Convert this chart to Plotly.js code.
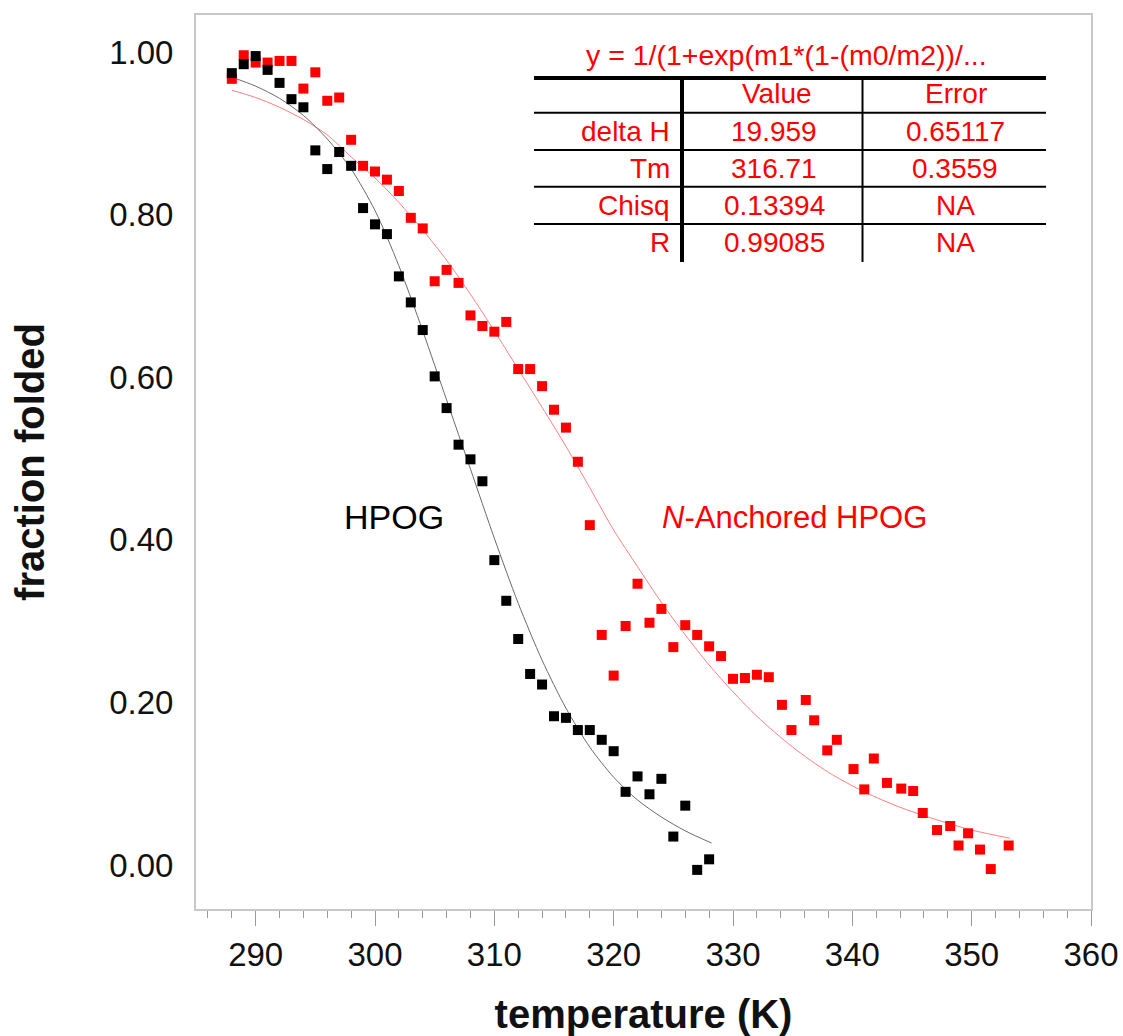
<!DOCTYPE html>
<html>
<head>
<meta charset="utf-8">
<script src="https://cdn.plot.ly/plotly-3.0.1.min.js"></script>
<style>html,body{margin:0;padding:0;background:#fff;}#chart{width:1123px;height:1036px;}</style>
</head>
<body>
<div id="chart"></div>
<script>
// ---- data ----
const blackT = [288,289,290,291,292,293,294,295,296,297,298,299,300,301,302,303,304,305,306,307,308,309,310,311,312,313,314,315,316,317,318,319,320,321,322,323,324,325,326,327,328];
const blackY = [0.974,0.985,0.995,0.978,0.962,0.942,0.932,0.879,0.856,0.877,0.860,0.808,0.788,0.776,0.724,0.692,0.658,0.601,0.562,0.517,0.499,0.472,0.375,0.325,0.278,0.235,0.222,0.183,0.181,0.166,0.166,0.154,0.140,0.090,0.109,0.087,0.106,0.035,0.073,-0.006,0.007];

const redT = [288,289,290,291,292,293,294,295,296,297,298,299,300,301,302,303,304,305,306,307,308,309,310,311,312,313,314,315,316,317,318,319,320,321,322,323,324,325,326,327,328,329,330,331,332,333,334.1,334.9,336.1,336.8,337.9,338.7,340.1,341.0,341.8,342.9,344.1,345.1,345.9,347.1,348.2,348.9,349.7,350.7,351.6,353.1];
const redY = [0.967,0.996,0.987,0.987,0.989,0.989,0.955,0.975,0.940,0.944,0.892,0.860,0.853,0.843,0.829,0.796,0.783,0.718,0.732,0.716,0.676,0.663,0.656,0.668,0.610,0.610,0.589,0.560,0.538,0.496,0.418,0.283,0.233,0.294,0.346,0.298,0.315,0.268,0.295,0.283,0.269,0.257,0.229,0.230,0.234,0.231,0.197,0.166,0.203,0.178,0.141,0.154,0.118,0.093,0.131,0.101,0.094,0.091,0.064,0.043,0.048,0.024,0.039,0.019,-0.005,0.024];

const blackFitT = [288,290,292,294,296,298,300,302,304,306,308,310,312,314,316,318,320,322,324,326,328.2];
const blackFitY = [0.969,0.958,0.943,0.922,0.893,0.856,0.805,0.737,0.657,0.572,0.487,0.402,0.322,0.252,0.193,0.145,0.108,0.080,0.059,0.042,0.027];

const redFitT = [288,290,292,294,296,298,300,302,304,306,308,310,312,314,316,318,320,322,324,326,328,330,332,335,338,341,344,347,350,353.2];
const redFitY = [0.953,0.944,0.932,0.917,0.898,0.871,0.845,0.815,0.781,0.744,0.702,0.657,0.610,0.563,0.515,0.464,0.412,0.367,0.323,0.283,0.246,0.213,0.183,0.145,0.114,0.090,0.071,0.056,0.043,0.033];

const yTicks = [0,0.2,0.4,0.6,0.8,1.0];
const xTicks = [290,300,310,320,330,340,350,360];

const fitFormula = 'y = 1/(1+exp(m1*(1-(m0/m2))/...';
const tableHeader = ['Value','Error'];
const tableRows = ['delta H','Tm','Chisq','R'];
const tableValues = ['19.959','316.71','0.13394','0.99085'];
const tableErrors = ['0.65117','0.3559','NA','NA'];

const labelBlack = 'HPOG';
const labelRed = '<i>N</i>-Anchored HPOG';

// ---- layout helpers (pixel -> paper) ----
const W = 1123, H = 1036;
const L = 196, R = 1091, T = 15, B = 909;
const px = v => (v - L) / (R - L);
const py = v => (B - v) / (B - T);
const FONT = 'Liberation Sans, Arial, Helvetica, sans-serif';
const RED = '#ff0000';

const traces = [
  {x: redFitT, y: redFitY, mode: 'lines', line: {color: '#ff8080', width: 1, shape: 'spline', smoothing: 0.8}, hoverinfo: 'skip', showlegend: false},
  {x: blackFitT, y: blackFitY, mode: 'lines', line: {color: '#6a6a6a', width: 1, shape: 'spline', smoothing: 0.8}, hoverinfo: 'skip', showlegend: false},
  {x: redT, y: redY, mode: 'markers', marker: {symbol: 'square', size: 10, color: RED, line: {width: 0}}, showlegend: false},
  {x: blackT, y: blackY, mode: 'markers', marker: {symbol: 'square', size: 10, color: '#000000', line: {width: 0}}, showlegend: false}
];

const shapes = [];
const annotations = [];
// table lines
shapes.push({type: 'line', xref: 'paper', yref: 'paper', x0: px(534), x1: px(1046), y0: py(78), y1: py(78), line: {color: '#000', width: 4}});
[112.7, 150, 186.7, 224].forEach(yy => shapes.push({type: 'line', xref: 'paper', yref: 'paper', x0: px(534), x1: px(1046), y0: py(yy), y1: py(yy), line: {color: '#000', width: 2}}));
shapes.push({type: 'line', xref: 'paper', yref: 'paper', x0: px(682), x1: px(682), y0: py(78), y1: py(262), line: {color: '#000', width: 4}});
shapes.push({type: 'line', xref: 'paper', yref: 'paper', x0: px(862.5), x1: px(862.5), y0: py(78), y1: py(262), line: {color: '#000', width: 2}});

const tfont = {family: FONT, size: 28, color: RED};
annotations.push({xref: 'paper', yref: 'paper', x: px(786), y: py(55), text: fitFormula, showarrow: false, xanchor: 'center', yanchor: 'middle', font: {family: FONT, size: 28.5, color: RED}});
annotations.push({xref: 'paper', yref: 'paper', x: px(777), y: py(93.5), text: tableHeader[0], showarrow: false, xanchor: 'center', yanchor: 'middle', font: tfont});
annotations.push({xref: 'paper', yref: 'paper', x: px(956), y: py(93.5), text: tableHeader[1], showarrow: false, xanchor: 'center', yanchor: 'middle', font: tfont});
const rowY = [131.7, 168.3, 205, 243];
tableRows.forEach((r, i) => {
  annotations.push({xref: 'paper', yref: 'paper', x: px(672), y: py(rowY[i]), text: tableRows[i], showarrow: false, xanchor: 'right', yanchor: 'middle', font: tfont});
  annotations.push({xref: 'paper', yref: 'paper', x: px(774), y: py(rowY[i]), text: tableValues[i], showarrow: false, xanchor: 'center', yanchor: 'middle', font: tfont});
  annotations.push({xref: 'paper', yref: 'paper', x: px(955), y: py(rowY[i]), text: tableErrors[i], showarrow: false, xanchor: 'center', yanchor: 'middle', font: tfont});
});
annotations.push({xref: 'paper', yref: 'paper', x: px(393.5), y: py(517), text: labelBlack, showarrow: false, xanchor: 'center', yanchor: 'middle', font: {family: FONT, size: 34, color: '#000'}});
annotations.push({xref: 'paper', yref: 'paper', x: px(794.5), y: py(517), text: labelRed, showarrow: false, xanchor: 'center', yanchor: 'middle', font: {family: FONT, size: 31, color: RED}});

const layout = {
  width: W, height: H,
  margin: {l: L, r: W - R, t: T, b: H - B, pad: 0},
  paper_bgcolor: '#ffffff', plot_bgcolor: '#ffffff',
  font: {family: FONT, color: '#111'},
  showlegend: false,
  xaxis: {
    range: [285, 360], tickmode: 'array', tickvals: xTicks, ticktext: xTicks.map(String),
    ticks: 'outside', ticklen: 15, tickwidth: 1, tickcolor: '#9a9a9a',
    minor: {dtick: 2, tick0: 0, ticks: 'outside', ticklen: 7, tickwidth: 1, tickcolor: '#9a9a9a'},
    showline: true, mirror: true, linecolor: '#c8c8c8', linewidth: 2,
    showgrid: false, zeroline: false,
    tickfont: {family: FONT, size: 33, color: '#111'},
    title: {text: '<b>temperature (K)</b>', font: {family: FONT, size: 40, color: '#111'}, standoff: 38}
  },
  yaxis: {
    range: [-0.0541, 1.0455], tickmode: 'array', tickvals: yTicks, ticktext: yTicks.map(v => v.toFixed(2)),
    ticks: 'outside', ticklen: 14, tickcolor: 'rgba(0,0,0,0)',
    showline: true, mirror: true, linecolor: '#c8c8c8', linewidth: 2,
    showgrid: false, zeroline: false,
    tickfont: {family: FONT, size: 33, color: '#111'},
    title: {text: '<b>fraction folded</b>', font: {family: FONT, size: 40, color: '#111'}, standoff: 52}
  },
  shapes: shapes,
  annotations: annotations
};

Plotly.newPlot('chart', traces, layout, {displayModeBar: false, staticPlot: true});
</script>
</body>
</html>
